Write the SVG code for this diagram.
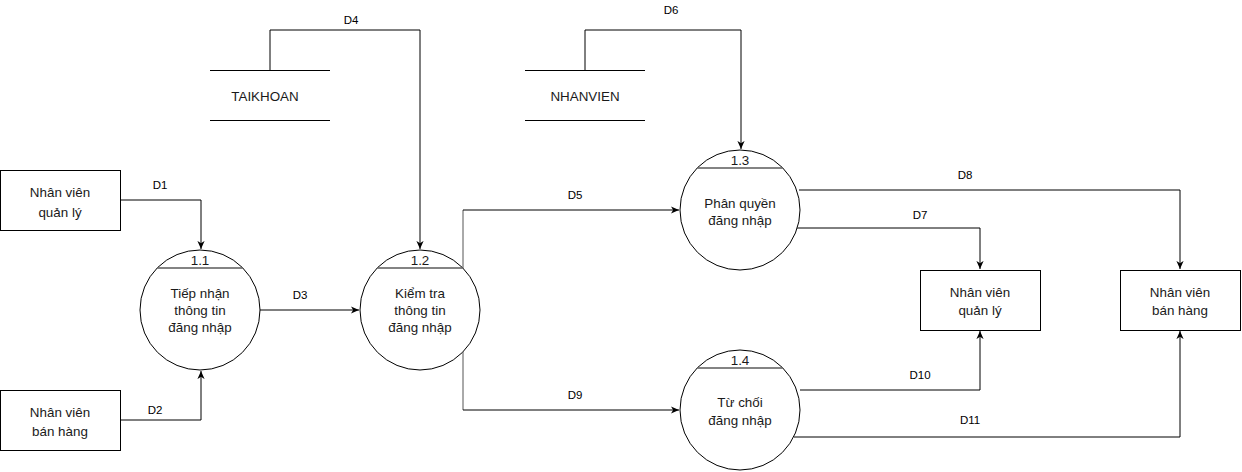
<svg xmlns="http://www.w3.org/2000/svg" width="1242" height="472" viewBox="0 0 1242 472">
<style>
.bg{fill:#ffffff}
.box{fill:#ffffff;stroke:#000000;stroke-width:1}
.proc{fill:#ffffff;stroke:#000000;stroke-width:1}
.hdr{stroke:#5a5a5a;stroke-width:1.4;fill:none}
.store{stroke:#000000;stroke-width:1;fill:none}
.t{font-family:"Liberation Sans",Arial,sans-serif;font-size:13.4px;fill:#1a1a1a;text-anchor:middle}
.lbl{font-family:"Liberation Sans",Arial,sans-serif;font-size:11.5px;fill:#000000;text-anchor:middle}
.edge{fill:none;stroke:#000000;stroke-width:1}
.edgeg{fill:none;stroke:#555555;stroke-width:1}
</style>
<defs>
<marker id="arr" viewBox="0 0 10 8" refX="9" refY="4" markerWidth="9" markerHeight="8" orient="auto" markerUnits="userSpaceOnUse">
<path d="M0,0 L9,4 L0,8 L2.5,4 Z" fill="#000000"/>
</marker>
</defs>
<rect class="bg" x="0" y="0" width="1242" height="472"/>

<g id="connectors">
<path class="edge" d="M120,200 H201 V249" marker-end="url(#arr)"/>
<text class="lbl" x="160" y="189">D1</text>
<path class="edge" d="M120,420 H201 V371" marker-end="url(#arr)"/>
<text class="lbl" x="155" y="414">D2</text>
<path class="edge" d="M260,310 H359" marker-end="url(#arr)"/>
<text class="lbl" x="300" y="299">D3</text>
<path class="edge" d="M270,70 V30 H420 V249" marker-end="url(#arr)"/>
<text class="lbl" x="351" y="24">D4</text>
<path class="edgeg" d="M463,268 V210"/>
<path class="edge" d="M463,210 H679" marker-end="url(#arr)"/>
<text class="lbl" x="575" y="199">D5</text>
<path class="edge" d="M585,70 V30 H741 V149" marker-end="url(#arr)"/>
<text class="lbl" x="671" y="14">D6</text>
<path class="edge" d="M797,228 H980 V269" marker-end="url(#arr)"/>
<text class="lbl" x="920" y="219">D7</text>
<path class="edge" d="M799,190 H1180 V269" marker-end="url(#arr)"/>
<text class="lbl" x="965" y="179">D8</text>
<path class="edgeg" d="M463,352 V410"/>
<path class="edge" d="M463,410 H679" marker-end="url(#arr)"/>
<text class="lbl" x="575" y="399">D9</text>
<path class="edge" d="M800,390 H980 V331" marker-end="url(#arr)"/>
<text class="lbl" x="920" y="379">D10</text>
<path class="edge" d="M794,437 H1180 V331" marker-end="url(#arr)"/>
<text class="lbl" x="970" y="424">D11</text>
</g>

<g id="ext-nvql-left">
<rect class="box" x="0.5" y="170.5" width="120" height="60"/>
<text class="t" x="60" y="197">Nhân viên</text>
<text class="t" x="60" y="217">quản lý</text>
</g>
<g id="ext-nvbh-left">
<rect class="box" x="0.5" y="390.5" width="120" height="60"/>
<text class="t" x="60" y="417">Nhân viên</text>
<text class="t" x="60" y="436">bán hàng</text>
</g>
<g id="ext-nvql-right">
<rect class="box" x="920.5" y="270.5" width="120" height="60"/>
<text class="t" x="980" y="297">Nhân viên</text>
<text class="t" x="980" y="315">quản lý</text>
</g>
<g id="ext-nvbh-right">
<rect class="box" x="1120.5" y="270.5" width="120" height="60"/>
<text class="t" x="1180" y="297">Nhân viên</text>
<text class="t" x="1180" y="315">bán hàng</text>
</g>

<g id="store-taikhoan">
<line class="store" x1="210" y1="70.5" x2="330" y2="70.5"/>
<line class="store" x1="210" y1="120.5" x2="330" y2="120.5"/>
<text class="t" x="265" y="101">TAIKHOAN</text>
</g>
<g id="store-nhanvien">
<line class="store" x1="525" y1="70.5" x2="645" y2="70.5"/>
<line class="store" x1="525" y1="120.5" x2="645" y2="120.5"/>
<text class="t" x="585" y="101">NHANVIEN</text>
</g>

<g id="proc-1-1">
<circle class="proc" cx="200" cy="310" r="60"/>
<line class="hdr" x1="157.2" y1="268" x2="242.8" y2="268"/>
<text class="t" x="200" y="265">1.1</text>
<text class="t" x="200" y="298">Tiếp nhận</text>
<text class="t" x="200" y="315">thông tin</text>
<text class="t" x="200" y="332">đăng nhập</text>
</g>
<g id="proc-1-2">
<circle class="proc" cx="420" cy="310" r="60"/>
<line class="hdr" x1="377.2" y1="268" x2="462.8" y2="268"/>
<text class="t" x="420" y="265">1.2</text>
<text class="t" x="420" y="298">Kiểm tra</text>
<text class="t" x="420" y="315">thông tin</text>
<text class="t" x="420" y="332">đăng nhập</text>
</g>
<g id="proc-1-3">
<circle class="proc" cx="740" cy="210" r="60"/>
<line class="hdr" x1="697.2" y1="168" x2="782.8" y2="168"/>
<text class="t" x="740" y="165">1.3</text>
<text class="t" x="740" y="208">Phân quyền</text>
<text class="t" x="740" y="225">đăng nhập</text>
</g>
<g id="proc-1-4">
<circle class="proc" cx="740" cy="410" r="60"/>
<line class="hdr" x1="697.2" y1="368" x2="782.8" y2="368"/>
<text class="t" x="740" y="365">1.4</text>
<text class="t" x="740" y="407">Từ chối</text>
<text class="t" x="740" y="425">đăng nhập</text>
</g>
</svg>
